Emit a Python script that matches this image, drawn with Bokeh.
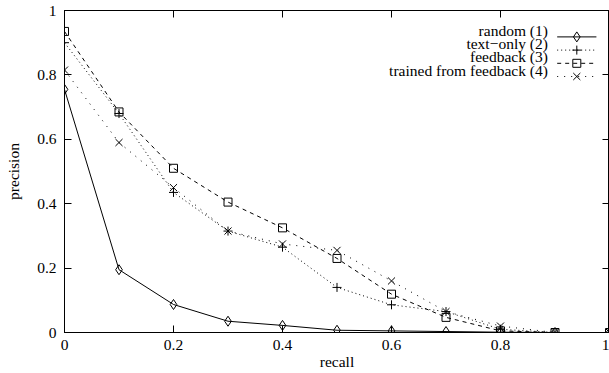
from bokeh.plotting import figure
from bokeh.models import LinearAxis, FixedTicker, CustomJSTickFormatter, Range1d
from bokeh.core.properties import value
from bokeh.embed import file_html
from bokeh.resources import INLINE

recall = [0.0, 0.1, 0.2, 0.3, 0.4, 0.5, 0.6, 0.7, 0.8, 0.9, 1.0]
random_p = [0.755, 0.195, 0.087, 0.035, 0.022, 0.007, 0.005, 0.003, 0.001, 0.0, 0.0]
text_only = [0.90, 0.68, 0.435, 0.315, 0.265, 0.14, 0.086, 0.065, 0.01, 0.0, 0.0]
feedback = [0.935, 0.685, 0.51, 0.405, 0.325, 0.23, 0.119, 0.047, 0.005, 0.0, 0.0]
trained = [0.815, 0.59, 0.45, 0.315, 0.275, 0.255, 0.16, 0.065, 0.02, 0.0, 0.0]
labels = ["random (1)", "text\u2212only (2)", "feedback (3)", "trained from feedback (4)"]
ticks = [0, 0.2, 0.4, 0.6, 0.8, 1.0]

FONT = "Liberation Serif"
FS = "15.5px"

p = figure(width=609, height=373, output_backend="svg", toolbar_location=None,
           x_range=Range1d(0, 1), y_range=Range1d(0, 1),
           min_border_left=64, min_border_right=0, min_border_top=10, min_border_bottom=41)
p.grid.visible = False
p.outline_line_color = "black"
p.background_fill_color = None
p.border_fill_color = None

fmt = CustomJSTickFormatter(code="return String(Math.round(tick*10)/10);")
for ax in (p.xaxis[0], p.yaxis[0]):
    ax.ticker = FixedTicker(ticks=ticks)
    ax.formatter = fmt
    ax.major_tick_in = 7
    ax.major_tick_out = 0
    ax.minor_tick_line_color = None
    ax.major_label_text_font = FONT
    ax.major_label_text_font_size = FS
    ax.major_label_text_color = "black"
    ax.axis_label_text_font = FONT
    ax.axis_label_text_font_size = FS
    ax.axis_label_text_font_style = "normal"
    ax.axis_label_text_color = "black"
    ax.axis_line_color = "black"
    ax.major_tick_line_color = "black"
p.xaxis.axis_label = "recall"
p.yaxis.axis_label = "precision"
p.xaxis.major_label_standoff = 7
p.yaxis.major_label_standoff = 8
p.xaxis.axis_label_standoff = 0
p.yaxis.axis_label_standoff = 12

# mirrored inward ticks on the top and right edges (no labels)
for loc in ("above", "right"):
    ax = LinearAxis(ticker=FixedTicker(ticks=ticks), major_tick_in=7, major_tick_out=0,
                    minor_tick_line_color=None, major_label_text_font_size="0px",
                    major_label_standoff=0, major_tick_line_color="black",
                    formatter=CustomJSTickFormatter(code="return '';"))
    p.add_layout(ax, loc)

styles = [
    (random_p, "solid", "diamond", 10),
    (text_only, "1 3", "cross", 9),
    (feedback, "4 4", "square", 8),
    (trained, "1 6", "x", 10),
]
for ys, dash, mk, sz in styles:
    p.line(recall, ys, line_color="black", line_width=1, line_dash=dash)
    p.scatter(recall, ys, marker=mk, size=sz, fill_color=None, line_color="black", line_width=1)

# legend drawn in the plot (text right-aligned, sample on the right)
leg_text_y = [0.938, 0.897, 0.856, 0.815]
leg_line_y = [0.918, 0.877, 0.836, 0.795]
for (ys, dash, mk, sz), lab, ty, ly in zip(styles, labels, leg_text_y, leg_line_y):
    p.text(x=[0.887], y=[ty], text=[lab], text_align="right", text_baseline="alphabetic",
           text_font=value(FONT), text_font_size=FS, text_color="black")
    p.line([0.904, 0.976], [ly, ly], line_color="black", line_width=1, line_dash=dash)
    p.scatter([0.94], [ly], marker=mk, size=sz, fill_color=None, line_color="black", line_width=1)

open("out.html", "w").write(file_html(p, INLINE))
